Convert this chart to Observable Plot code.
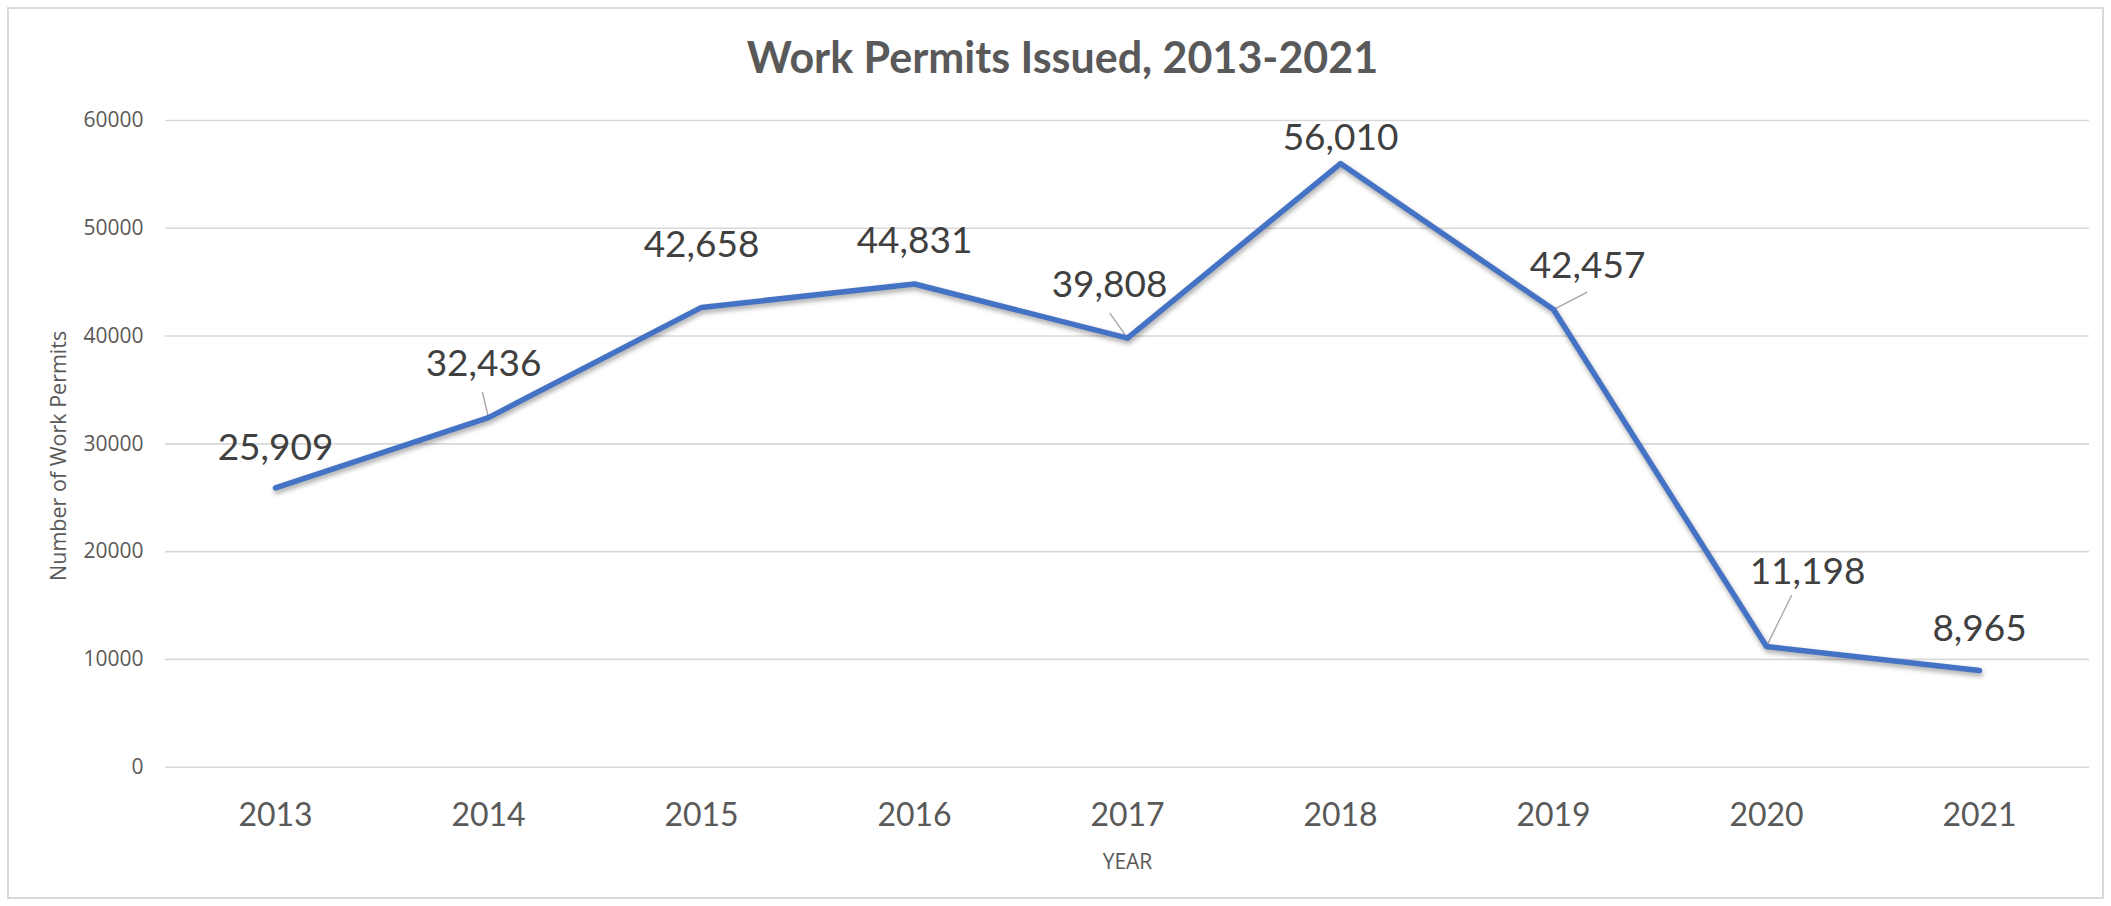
<!DOCTYPE html>
<html>
<head>
<meta charset="utf-8">
<script src="https://cdn.jsdelivr.net/npm/d3@7"></script>
<script src="https://cdn.jsdelivr.net/npm/@observablehq/plot@0.6"></script>
<style>
  html, body { margin: 0; padding: 0; background: #ffffff; }
  #chart { position: relative; width: 2111px; height: 906px; overflow: hidden; background: #fff; }
  #frame { position: absolute; left: 7px; top: 7px; width: 2097px; height: 892px; box-sizing: border-box; border: 2px solid #d9d9d9; pointer-events: none; }
  #title { position: absolute; left: 14px; top: 35px; width: 2097px; text-align: center; font-family: Lato, "Open Sans", sans-serif; font-weight: bold; font-size: 43px; line-height: 43px; color: #595959; white-space: nowrap; }
  #plot { position: absolute; left: 0; top: 100px; }
  #plot g[aria-label="line"] path { filter: drop-shadow(1px 3px 2.5px rgba(0,0,0,0.35)); }
</style>
</head>
<body>
<div id="chart">
  <div id="frame"></div>
  <div id="title">Work Permits Issued, 2013-2021</div>
  <div id="plot"></div>
</div>
<script>
// ---- data ----
const years = ["2013", "2014", "2015", "2016", "2017", "2018", "2019", "2020", "2021"];
const permits = [25909, 32436, 42658, 44831, 39808, 56010, 42457, 11198, 8965];
const yTicks = [0, 10000, 20000, 30000, 40000, 50000, 60000];
const xTitle = "YEAR";
const yTitle = "Number of Work Permits";

// ---- label layout (pixel offsets of each data label from its point) ----
const labelDx = [0, -5, 0, 0, -18, 0, 34, 41, 0];
const labelDy = [-27.5, -42, -50, -30.5, -41, -14, -32, -63, -30];
// leader lines for moved labels
const leaderYears = ["2014", "2017", "2019", "2020"];
const leaderLength = [25.7, 30.1, 37.5, 56.8];
const leaderAngle = [-13.5, -35.3, 62.5, 26.1];

const data = years.map((year, i) => ({year, permits: permits[i]}));
const fmt = d3.format(",");

const leaderShape = {draw(context, l) { context.moveTo(0, 0); context.lineTo(0, -l); }};

const leaders = leaderYears.map((yr, i) =>
  Plot.vector(data.filter(d => d.year === yr), {
    x: "year", y: "permits",
    length: leaderLength[i], rotate: leaderAngle[i],
    anchor: "start", shape: leaderShape,
    stroke: "#a6a6a6", strokeWidth: 1.4
  })
);

const labels = data.map((d, i) =>
  Plot.text([d], {
    x: "year", y: "permits", text: dd => fmt(dd.permits),
    dx: labelDx[i], dy: labelDy[i],
    lineAnchor: "bottom", textAnchor: "middle",
    fontFamily: "Lato", fontSize: 37, fill: "#404040"
  })
);

const chart = Plot.plot({
  width: 2111,
  height: 806,
  marginTop: 20,
  marginBottom: 139.3,
  marginLeft: 165,
  marginRight: 22,
  x: {type: "point", domain: years, padding: 0.5, align: 0.5},
  y: {domain: [0, 60000]},
  style: {background: "transparent", overflow: "visible"},
  marks: [
    Plot.ruleY(yTicks, {stroke: "#d9d9d9", strokeWidth: 1.6}),
    Plot.axisY({
      ticks: yTicks, tickSize: 0, tickPadding: 22, tickFormat: d => String(d),
      fontSize: 21, fontFamily: "Open Sans", color: "#595959", label: null
    }),
    Plot.text([yTitle], {
      text: d => d, frameAnchor: "left", rotate: -90,
      dx: -106, dy: 12, lineAnchor: "middle", textAnchor: "middle",
      fontSize: 21.5, fontFamily: "Open Sans", fill: "#595959"
    }),
    Plot.axisX({
      tickSize: 0, tickPadding: 36, fontSize: 32, fontFamily: "Lato", color: "#595959", label: null
    }),
    Plot.axisX({
      ticks: [], label: xTitle, labelAnchor: "center", labelOffset: 102,
      fontSize: 21, fontFamily: "Open Sans", color: "#595959"
    }),
    ...leaders,
    Plot.line(data, {
      x: "year", y: "permits", stroke: "#4472C4", strokeWidth: 5.5,
      strokeLinecap: "round", strokeLinejoin: "round"
    }),
    ...labels
  ]
});
document.getElementById("plot").appendChild(chart);
</script>
</body>
</html>
